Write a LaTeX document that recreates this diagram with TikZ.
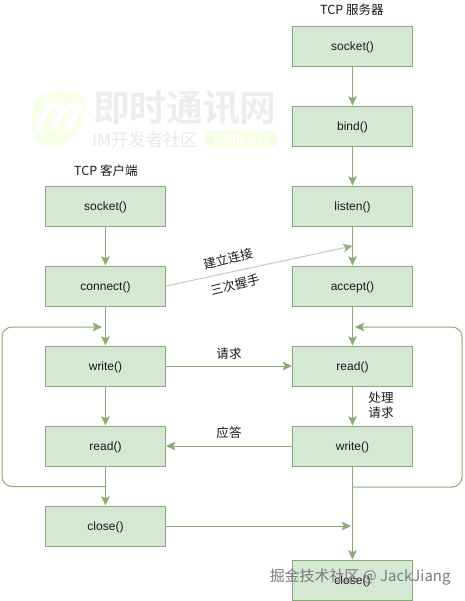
\documentclass[tikz,border=0pt]{standalone}
\usepackage{fontspec}
\setmainfont{Liberation Sans}
\newfontfamily\cjk{Noto Sans CJK SC}
\newfontfamily\cjkb{Noto Sans CJK SC Bold}
\usetikzlibrary{arrows.meta}
\definecolor{boxfill}{HTML}{D5E8D4}
\definecolor{boxline}{HTML}{88AB76}
\definecolor{slant}{HTML}{C2CDB9}
\tikzset{
  opbox/.style={draw=boxline,fill=boxfill,line width=0.75pt,minimum width=90pt,minimum height=30pt,inner sep=0pt,text height=8pt,text depth=1.6pt,font=\fontsize{9}{11}\selectfont,text=black!90},
  link/.style={draw=boxline,line width=0.75pt,-{Stealth[length=7pt,width=6.5pt,inset=1.6pt]}},
  loopline/.style={link,rounded corners=7.5pt},
  lab/.style={font=\cjk\fontsize{9.4}{11}\selectfont,inner sep=0pt,text=black!90}
}
\begin{document}
\begin{tikzpicture}[x=0.75pt,y=-0.75pt]
\useasboundingbox (0,0) rectangle (465,601);
% faint watermark
\fill[fill=green!30!yellow!9] (47,93) .. controls (62,90) and (85,92) .. (85,100) .. controls (85,125) and (75,147) .. (50,147) .. controls (34,147) and (32,130) .. (32,118) .. controls (32,103) and (38,96) .. (47,93) -- cycle;
\node[inner sep=0pt,text=white,font=\bfseries\itshape\fontsize{38}{38}\selectfont,xslant=0.25] (logo) at (59,117) {m};
\node[inner sep=0pt,anchor=west,text=black!7,font=\cjkb\fontsize{27.5}{30}\selectfont] (brand) at (93,108) {即时通讯网};
\node[inner sep=0pt,anchor=west,text=black!9,font=\cjk\fontsize{13}{15}\selectfont] (slogan) at (92,140) {IM开发者社区};
\node[fill=green!30!yellow!11,rounded corners=4pt,minimum width=54pt,minimum height=12pt,inner sep=0pt,text=white,font=\bfseries\fontsize{10}{12}\selectfont] (site) at (241,139) {52im.net};
% titles
\node[lab] (servertitle) at (352,10) {TCP 服务器};
\node[lab] (clienttitle) at (106,171) {TCP 客户端};
% client boxes
\node[opbox] (csocket) at (105.5,206) {socket()};
\node[opbox] (cconnect) at (105.5,286) {connect()};
\node[opbox] (cwrite) at (105.5,366) {write()};
\node[opbox] (cread) at (105.5,446) {read()};
\node[opbox] (cclose) at (105.5,526) {close()};
% server boxes
\node[opbox] (ssocket) at (352.5,46) {socket()};
\node[opbox] (sbind) at (352.5,126) {bind()};
\node[opbox] (slisten) at (352.5,206) {listen()};
\node[opbox] (saccept) at (352.5,286) {accept()};
\node[opbox] (sread) at (352.5,366) {read()};
\node[opbox] (swrite) at (352.5,446) {write()};
\node[opbox] (sclose) at (352.5,580) {close()};
% free ends
\coordinate (hs) at (352.5,246);
\coordinate (lloopin) at (102,327);
\coordinate (lloopout) at (105.5,486.5);
\coordinate (rloopin) at (355,327);
\coordinate (rloopout) at (352.5,487);
\coordinate (closein) at (351,526);
% vertical links
\draw[link] (csocket) -- (cconnect);
\draw[link] (cconnect) -- (cwrite);
\draw[link] (cwrite) -- (cread);
\draw[link] (cread) -- (cclose);
\draw[link] (ssocket) -- (sbind);
\draw[link] (sbind) -- (slisten);
\draw[link] (slisten) -- (saccept);
\draw[link] (saccept) -- (sread);
\draw[link] (sread) -- (swrite);
\draw[link] (swrite) -- (sclose);
% horizontals
\draw[link] (cwrite) -- node[lab,pos=0.5,yshift=9.5pt] (reqlab) {请求} (sread);
\draw[link] (swrite) -- node[lab,pos=0.5,yshift=10pt] (resplab) {应答} (cread);
\draw[link] (cclose) -- (closein);
\draw[draw=slant,line width=0.75pt,-{Stealth[length=7pt,width=6.5pt,inset=1.6pt,color=boxline!80!slant]}] (cconnect.east) -- (hs);
\node[lab,rotate=14] (estab) at (228,259) {建立连接};
\node[lab,rotate=14] (shake) at (235,285) {三次握手};
\node[lab,align=center,font=\cjk\fontsize{9.4}{11}\selectfont] (proc) at (381,405.5) {处理\\请求};
% loops
\draw[loopline] (lloopout) -- (2,486.5) -- (2,327) -- (lloopin);
\draw[loopline] (rloopout) -- (462,487) -- (462,327) -- (rloopin);
% bottom watermark
\node[inner sep=0pt,anchor=west,text=black!52,font=\cjk\fontsize{11.2}{13}\selectfont] (wm) at (269.5,577) {掘金技术社区 @ JackJiang};
\end{tikzpicture}
\end{document}
